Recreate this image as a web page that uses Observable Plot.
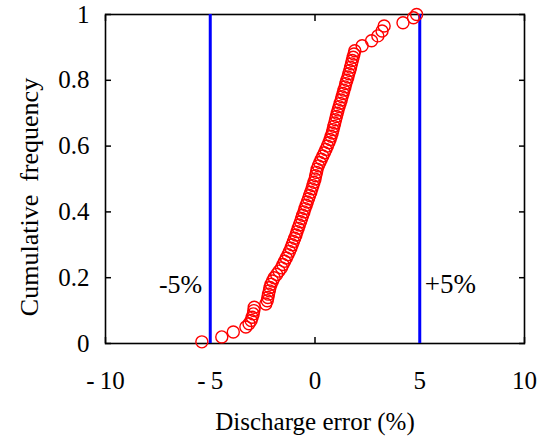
<!DOCTYPE html>
<html>
<head>
<meta charset="utf-8">
<script src="https://cdn.jsdelivr.net/npm/d3@7"></script>
<script src="https://cdn.jsdelivr.net/npm/@observablehq/plot@0.6"></script>
<style>
  html, body { margin: 0; padding: 0; background: #fff; }
</style>
</head>
<body>
<div id="chart"></div>
<script>
// Discharge error (%) of each sample, sorted
const errors = [
  -5.4, -4.45, -3.9, -3.3, -3.15, -3.05, -3.0, -2.95, -2.92, -2.9,
  -2.35, -2.28, -2.25, -2.22, -2.18, -2.15, -2.1, -2.03, -1.95, -1.83,
  -1.72, -1.6, -1.53, -1.45, -1.37, -1.29, -1.22, -1.15, -1.09, -1.03,
  -0.97, -0.91, -0.86, -0.8, -0.75, -0.69, -0.64, -0.59, -0.53, -0.48,
  -0.42, -0.37, -0.31, -0.26, -0.2, -0.15, -0.1, -0.05, 0.0, 0.03,
  0.07, 0.1, 0.16, 0.23, 0.3, 0.37, 0.45, 0.52, 0.59, 0.66,
  0.72, 0.77, 0.82, 0.86, 0.9, 0.94, 0.98, 1.02, 1.06, 1.1,
  1.15, 1.2, 1.25, 1.29, 1.34, 1.38, 1.43, 1.47, 1.52, 1.57,
  1.61, 1.66, 1.7, 1.74, 1.78, 1.82, 1.86, 1.9,
  2.25, 2.7, 3.0, 3.2, 3.3, 4.2, 4.7, 4.85
];
// Cumulative frequency of each sample
const cumFreq = [
  0.005, 0.02, 0.035, 0.05, 0.06, 0.07, 0.08, 0.09, 0.10, 0.11,
  0.12, 0.13, 0.14, 0.15, 0.16, 0.17, 0.18, 0.19, 0.20, 0.21,
  0.22, 0.23, 0.24, 0.25, 0.26, 0.27, 0.28, 0.29, 0.30, 0.31,
  0.32, 0.33, 0.34, 0.35, 0.36, 0.37, 0.38, 0.39, 0.40, 0.41,
  0.42, 0.43, 0.44, 0.45, 0.46, 0.47, 0.48, 0.49, 0.50, 0.51,
  0.52, 0.53, 0.54, 0.55, 0.56, 0.57, 0.58, 0.59, 0.60, 0.61,
  0.62, 0.63, 0.64, 0.65, 0.66, 0.67, 0.68, 0.69, 0.70, 0.71,
  0.72, 0.73, 0.74, 0.75, 0.76, 0.77, 0.78, 0.79, 0.80, 0.81,
  0.82, 0.83, 0.84, 0.85, 0.86, 0.87, 0.88, 0.89,
  0.905, 0.92, 0.935, 0.95, 0.965, 0.975, 0.99, 1.0
];
const limitLow = -5;
const limitHigh = 5;
const labelLow = "-5%";
const labelHigh = "+5%";
const limitLabelY = 0.18;
const xTicks = [-10, -5, 0, 5, 10];
const yTicks = [0, 0.2, 0.4, 0.6, 0.8, 1];
const xTitle = "Discharge error (%)";
const yTitle = "Cumulative  frequency";

const points = errors.map((e, i) => ({x: e, y: cumFreq[i]}));

const fmtX = d => d < 0 ? "-\u2009" + Math.abs(d) : String(d);
const fmtY = d => String(d);

const chart = Plot.plot({
  width: 544,
  height: 437,
  marginLeft: 105,
  marginRight: 20,
  marginTop: 14,
  marginBottom: 94,
  style: {fontFamily: "'Liberation Serif', 'Times New Roman', serif", background: "#fff", color: "#000"},
  x: {domain: [-10, 10]},
  y: {domain: [0, 1]},
  marks: [
    // tick labels
    Plot.axisX({ticks: xTicks, tickSize: 0, tickPadding: 28, tickFormat: fmtX, fontSize: 25, label: null}),
    Plot.axisY({ticks: yTicks, tickSize: 0, tickPadding: 16, tickFormat: fmtY, fontSize: 25, label: null}),
    // inward tick marks
    Plot.axisX({ticks: xTicks, anchor: "bottom", tickSize: -6, text: null, label: null, strokeWidth: 1.5}),
    Plot.axisX({ticks: xTicks, anchor: "top", tickSize: -6, text: null, label: null, strokeWidth: 1.5}),
    Plot.axisY({ticks: yTicks, anchor: "left", tickSize: -6, text: null, label: null, strokeWidth: 1.5}),
    Plot.axisY({ticks: yTicks, anchor: "right", tickSize: -6, text: null, label: null, strokeWidth: 1.5}),
    Plot.frame({stroke: "#000", strokeWidth: 1.6}),
    // limit lines
    Plot.ruleX([limitLow, limitHigh], {stroke: "#0000ff", strokeWidth: 3}),
    Plot.text([labelLow], {x: limitLow, y: limitLabelY, textAnchor: "end", dx: -8, fontSize: 26, fill: "#000"}),
    Plot.text([labelHigh], {x: limitHigh, y: limitLabelY, textAnchor: "start", dx: 5, fontSize: 27, fill: "#000"}),
    // data
    Plot.dot(points, {x: "x", y: "y", r: 6, stroke: "#ff0000", strokeWidth: 1.4, fill: "none"}),
    // titles
    Plot.text([xTitle], {frameAnchor: "bottom", dy: 86, fontSize: 25, fill: "#000"}),
    Plot.text([yTitle], {frameAnchor: "left", rotate: -90, textAnchor: "middle", lineAnchor: "middle", dx: -76, dy: 18, fontSize: 26, fill: "#000"})
  ]
});
document.getElementById("chart").appendChild(chart);
</script>
</body>
</html>
